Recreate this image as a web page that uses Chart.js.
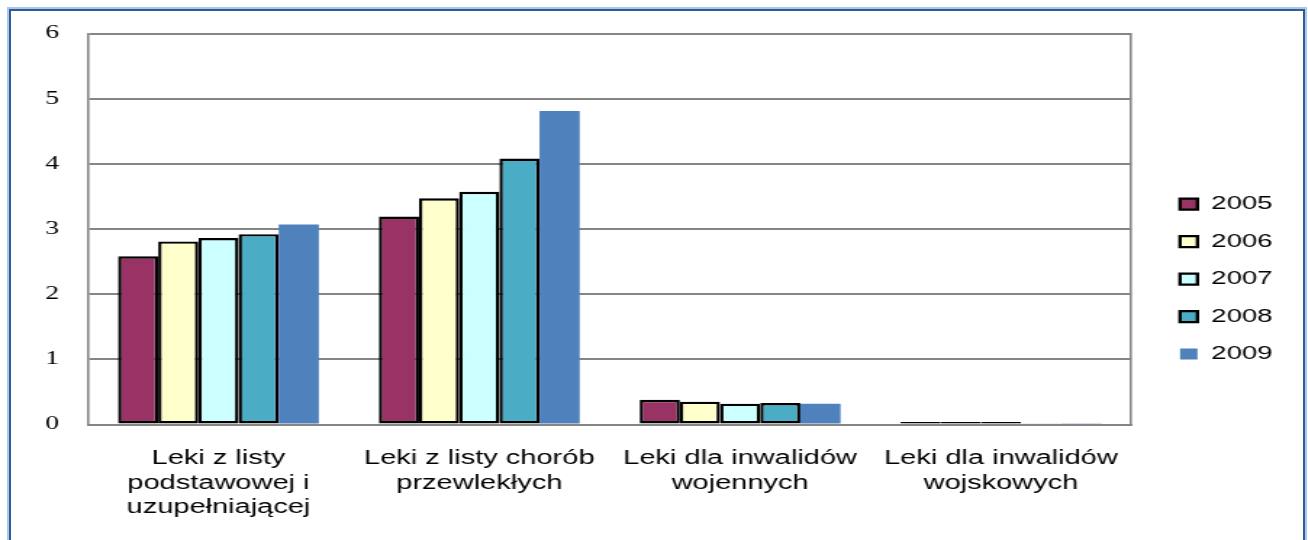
<!DOCTYPE html>
<html>
<head>
<meta charset="utf-8">
<script src="https://cdn.jsdelivr.net/npm/chart.js@4"></script>
<style>
  body { margin: 0; background: #fff; overflow: hidden; }
  #frame {
    position: absolute; left: 9px; top: 9px; width: 1292px; height: 560px;
    border: 2px solid #2f5c94; box-shadow: 0 0 0 2px #a9c8ea;
    pointer-events: none; z-index: 2;
  }
  /* the source picture is a horizontally stretched screenshot */
  #wrap {
    position: absolute; left: 0; top: 0; width: 902px; height: 540px;
    transform: scaleX(1.45); transform-origin: 0 0;
  }
</style>
</head>
<body>
<div id="frame"></div>
<div id="wrap"><canvas id="chart"></canvas></div>
<script>
const categories = [
    ['Leki z listy', 'podstawowej i', 'uzupełniającej'],
    ['Leki z listy chorób', 'przewlekłych'],
    ['Leki dla inwalidów', 'wojennych'],
    ['Leki dla inwalidów', 'wojskowych']
];
const years = ['2005', '2006', '2007', '2008', '2009'];
const v2005 = [2.58, 3.19, 0.38, 0.04];
const v2006 = [2.81, 3.47, 0.35, 0.04];
const v2007 = [2.86, 3.57, 0.32, 0.04];
const v2008 = [2.92, 4.08, 0.33, 0.01];
const v2009 = [3.07, 4.81, 0.32, 0.01];
const yTicks = [0, 1, 2, 3, 4, 5, 6];

const colors = ['#993366', '#ffffcc', '#ccffff', '#4bacc6', '#4f81bd'];
const series = [v2005, v2006, v2007, v2008, v2009];

const data = {
    labels: categories,
    datasets: series.map((vals, i) => ({
        label: years[i],
        data: vals,
        backgroundColor: colors[i],
        borderColor: i < 4 ? '#000000' : colors[i],
        borderWidth: i < 4 ? 2.4 : 0,
        borderSkipped: false,
        categoryPercentage: 0.77,
        barPercentage: 1.0
    }))
};

const config = {
    type: 'bar',
    data: data,
    options: {
        responsive: true,
        maintainAspectRatio: false,
        animation: false,
        devicePixelRatio: 1,
        layout: { padding: { left: 11.2, right: 14.4, top: 33.5, bottom: 20.3 } },
        plugins: {
            tooltip: { enabled: false },
            legend: {
                position: 'right',
                title: { display: true, text: ' ', padding: 2, font: { size: 1, lineHeight: 1 } },
                labels: {
                    boxWidth: 12,
                    boxHeight: 11,
                    padding: 18.5,
                    color: '#000',
                    font: { family: 'Liberation Sans, Arial, sans-serif', size: 19 }
                }
            }
        },
        scales: {
            x: {
                grid: { display: false, drawTicks: false },
                border: { display: true, color: '#858585', width: 2 },
                ticks: {
                    color: '#000',
                    padding: 22,
                    maxRotation: 0,
                    autoSkip: false,
                    font: { family: 'Liberation Sans, Arial, sans-serif', size: 20, lineHeight: 1.22 }
                },
                afterFit: s => { s.height = 95.2; }
            },
            y: {
                min: 0,
                max: 6,
                afterBuildTicks: s => { s.ticks = yTicks.map(v => ({ value: v })); },
                grid: { color: '#858585', lineWidth: 2, drawTicks: false },
                border: { display: true, color: '#858585', width: 1.6 },
                ticks: {
                    color: '#000',
                    padding: 20,
                    font: { family: 'Liberation Serif, Times New Roman, serif', size: 19 }
                }
            },
            yRight: {
                type: 'linear',
                position: 'right',
                min: 0,
                max: 6,
                grid: { display: false, drawTicks: false },
                border: { display: true, color: '#858585', width: 1.6 },
                ticks: { display: false },
                afterFit: s => { s.width = 15.1; }
            }
        }
    }
};

const myChart = new Chart(document.getElementById('chart'), config);
</script>
</body>
</html>
